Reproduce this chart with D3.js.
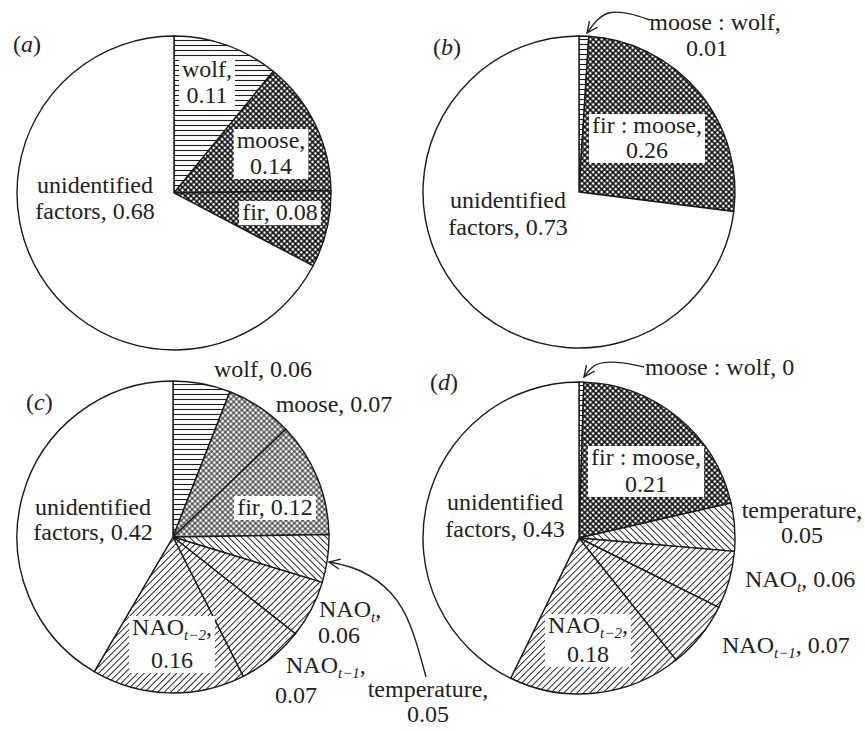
<!DOCTYPE html>
<html>
<head>
<meta charset="utf-8">
<script src="https://cdn.jsdelivr.net/npm/d3@7"></script>
<style>
  body { margin: 0; background: #fff; }
  text { font-family: "Liberation Serif", "Times New Roman", serif; font-size: 24px; fill: #222; }
</style>
</head>
<body>
<svg id="chart" width="865" height="731"></svg>
<script>
// proportion of variance explained, per panel
const namesA = ["wolf", "moose", "fir", "unidentified factors"];
const valuesA = [0.11, 0.14, 0.08, 0.68];

const namesB = ["moose : wolf", "fir : moose", "unidentified factors"];
const valuesB = [0.01, 0.26, 0.73];

const namesC = ["wolf", "moose", "fir", "temperature", "NAO_t", "NAO_t\u22121", "NAO_t\u22122", "unidentified factors"];
const valuesC = [0.06, 0.07, 0.12, 0.05, 0.06, 0.07, 0.16, 0.42];

const namesD = ["moose : wolf", "fir : moose", "temperature", "NAO_t", "NAO_t\u22121", "NAO_t\u22122", "unidentified factors"];
const valuesD = [0, 0.21, 0.05, 0.06, 0.07, 0.18, 0.43];

const panelLetters = ["a", "b", "c", "d"];

const svg = d3.select("#chart");
const defs = svg.append("defs");

// hatch patterns
function linePattern(id, gap, angle, width) {
  const p = defs.append("pattern").attr("id", id)
    .attr("patternUnits", "userSpaceOnUse")
    .attr("width", gap).attr("height", gap)
    .attr("patternTransform", `rotate(${angle})`);
  p.append("rect").attr("width", gap).attr("height", gap).attr("fill", "#fff");
  p.append("line").attr("x1", 0).attr("x2", gap).attr("y1", gap / 2).attr("y2", gap / 2)
    .attr("stroke", "#1a1a1a").attr("stroke-width", width);
}
function crossPattern(id, gap, width) {
  const p = defs.append("pattern").attr("id", id)
    .attr("patternUnits", "userSpaceOnUse")
    .attr("width", gap).attr("height", gap)
    .attr("patternTransform", "rotate(45)");
  p.append("rect").attr("width", gap).attr("height", gap).attr("fill", "#fff");
  p.append("path").attr("d", `M0,${gap / 2}H${gap}M${gap / 2},0V${gap}`)
    .attr("stroke", "#000").attr("stroke-width", width);
}
linePattern("hlines", 5, 0, 1.1);
linePattern("back", 4.6, 45, 0.95);
linePattern("fwd", 4.6, -45, 0.95);
crossPattern("xdense", 4.0, 1.45);
crossPattern("xthin", 3.9, 0.85);

defs.append("marker").attr("id", "arrow")
  .attr("viewBox", "0 0 12 12").attr("refX", 11).attr("refY", 6)
  .attr("markerWidth", 12).attr("markerHeight", 12)
  .attr("markerUnits", "userSpaceOnUse").attr("orient", "auto")
  .append("path").attr("d", "M0,1 L11,6 L0,11")
  .attr("fill", "none").attr("stroke", "#222").attr("stroke-width", 1.4);

function fillFor(name, letter) {
  if (name === "wolf" || name === "moose : wolf") return "url(#hlines)";
  if (name === "moose" || name === "fir" || name === "fir : moose")
    return letter === "c" ? "url(#xthin)" : "url(#xdense)";
  if (name === "temperature") return "url(#back)";
  if (name.startsWith("NAO")) return "url(#fwd)";
  return "#fff";
}

// label layout: mode "two" = name, / value ; "one" = name, value ; "word" = first word / rest, value
const panels = [
  { letter: "a", cx: 174, cy: 193, r: 157, names: namesA, values: valuesA, tag: [13, 52],
    labels: [
      { x: 207, y: 77, mode: "two", box: true },
      { x: 271, y: 148, mode: "two", box: true },
      { x: 280, y: 220, mode: "one", box: true },
      { x: 95, y: 193, mode: "word" }
    ] },
  { letter: "b", cx: 579, cy: 192, r: 156, names: namesB, values: valuesB, tag: [433, 55],
    labels: [
      { x: 715, y: 30, mode: "two", dx2: -8, arrow: [[650, 20], [630, 13], [610, 11], [598, 18], [587, 33]] },
      { x: 647, y: 133, mode: "two", box: true, gap: 25 },
      { x: 508, y: 208, mode: "word", gap: 27 }
    ] },
  { letter: "c", cx: 173, cy: 537, r: 156, names: namesC, values: valuesC, tag: [26, 410],
    labels: [
      { x: 263, y: 377, mode: "one" },
      { x: 334, y: 412, mode: "one" },
      { x: 275, y: 515, mode: "one", box: true },
      { x: 428, y: 697, mode: "two", gap: 25, arrow: [[426, 677], [412, 625], [394, 592], [360, 568], [329, 562]] },
      { x: 319, y: 617, mode: "two", anchor: "start", gap: 26, dx2: -1 },
      { x: 286, y: 673, mode: "two", anchor: "start", gap: 30, dx2: -11 },
      { x: 172, y: 635, mode: "two", box: true, gap: 33 },
      { x: 93, y: 515, mode: "word", gap: 25 }
    ] },
  { letter: "d", cx: 579, cy: 538, r: 156, names: namesD, values: valuesD, tag: [430, 390],
    labels: [
      { x: 645, y: 375, mode: "one", anchor: "start", arrow: [[644, 367], [622, 362], [602, 362], [592, 366], [584, 377]] },
      { x: 646, y: 465, mode: "two", box: true, gap: 27 },
      { x: 802, y: 518, mode: "two", gap: 25 },
      { x: 745, y: 587, mode: "one", anchor: "start" },
      { x: 722, y: 653, mode: "one", anchor: "start" },
      { x: 588, y: 633, mode: "two", box: true, gap: 29 },
      { x: 505, y: 510, mode: "word", gap: 27 }
    ] }
];

const fmt = v => (v === 0 ? "0" : d3.format(".2f")(v));

// writes one line, turning "NAO_t−1" into NAO with an italic subscript
function writeLine(textSel, str) {
  const m = str.match(/^(.*?)_([^,\s]+)(.*)$/);
  if (!m) { textSel.text(str); return; }
  textSel.append("tspan").text(m[1]);
  textSel.append("tspan").attr("font-size", 15).attr("font-style", "italic").attr("dy", 5).text(m[2]);
  textSel.append("tspan").attr("dy", -5).text(m[3]);
}

const arc = d3.arc().innerRadius(0);
const pie = d3.pie().sort(null).value(v => (v > 0 ? v : 0.005)); // keep a zero slice visible

panels.forEach(p => {
  const g = svg.append("g");
  const slices = pie(p.values);
  const pieG = g.append("g").attr("transform", `translate(${p.cx},${p.cy})`);
  pieG.selectAll("path").data(slices).join("path")
    .attr("d", d => arc.outerRadius(p.r)(d))
    .attr("fill", (d, i) => fillFor(p.names[i], p.letter))
    .attr("stroke", "#1a1a1a").attr("stroke-width", 1.4).attr("stroke-linejoin", "round");

  // panel tag
  const tag = g.append("text").attr("x", p.tag[0]).attr("y", p.tag[1]).attr("font-size", 23);
  tag.append("tspan").text("(");
  tag.append("tspan").attr("font-style", "italic").text(p.letter);
  tag.append("tspan").text(")");

  p.labels.forEach((L, i) => {
    const name = p.names[i], val = fmt(p.values[i]);
    let lines;
    if (L.mode === "two") lines = [name + ",", val];
    else if (L.mode === "one") lines = [name + ", " + val];
    else {
      const w = name.split(" ");
      lines = [w[0], w.slice(1).join(" ") + ", " + val];
    }
    const lg = g.append("g");
    const boxRect = L.box ? lg.append("rect").attr("fill", "#fff") : null;
    const gap = L.gap || 26;
    lines.forEach((s, k) => {
      const t = lg.append("text")
        .attr("x", L.x + (k === 1 ? (L.dx2 || 0) : 0))
        .attr("y", L.y + k * gap)
        .attr("text-anchor", L.anchor || "middle");
      writeLine(t, s);
    });
    if (boxRect) {
      const bb = lg.node().getBBox();
      boxRect.attr("x", bb.x - 3).attr("y", bb.y + 2)
        .attr("width", bb.width + 6).attr("height", bb.height - 2);
    }
    if (L.arrow) {
      g.append("path")
        .attr("d", d3.line().curve(d3.curveBasis)(L.arrow))
        .attr("fill", "none").attr("stroke", "#222").attr("stroke-width", 1.4)
        .attr("marker-end", "url(#arrow)");
    }
  });
});
</script>
</body>
</html>
